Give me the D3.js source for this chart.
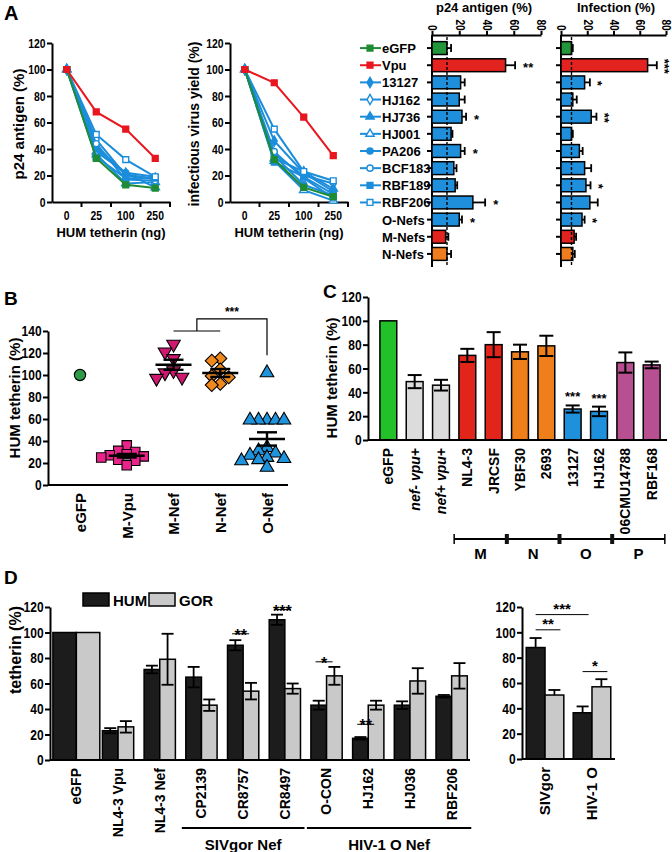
<!DOCTYPE html>
<html>
<head>
<meta charset="utf-8">
<script src="https://cdn.jsdelivr.net/npm/d3@7"></script>
<style>
  body { margin: 0; background: #fff; }
</style>
</head>
<body>
<div></div>
<script>
// ---------- panel A: dose curves ----------
const doses = ["0", "25", "100", "250"];
const curveNames = ["eGFP", "Vpu", "13127", "HJ162", "HJ736", "HJ001", "PA206", "BCF183", "RBF189", "RBF206"];
const curveSymbols = ["square", "square", "diamond", "diamond", "triangle", "triangle", "circle", "circle", "square", "square"];
const curveOpen = [false, false, false, true, false, true, false, true, false, true];
const p24Curves = [
  [100, 33, 13, 10.5],
  [100, 68, 55, 33],
  [100, 42, 21, 17],
  [100, 47, 20, 18],
  [100, 38, 22, 11],
  [100, 36, 14, 15],
  [100, 40, 22, 19],
  [100, 44, 17, 16],
  [100, 34, 18, 18],
  [100, 51, 32, 19]
];
const yieldCurves = [
  [100, 32, 11, 4],
  [100, 90, 64, 35],
  [100, 46, 22, 8],
  [100, 36, 20, 14],
  [100, 33, 23, 10],
  [100, 31, 9, 1],
  [100, 35, 13, 5],
  [100, 38, 18, 3],
  [100, 30, 19, 6],
  [100, 55, 23, 16]
];

// ---------- panel A: horizontal bars ----------
const barNames = ["eGFP", "Vpu", "13127", "HJ162", "HJ736", "HJ001", "PA206", "BCF183", "RBF189", "RBF206", "O-Nefs", "M-Nefs", "N-Nefs"];
const barGroups = ["eGFP", "Vpu", "O", "O", "O", "O", "O", "O", "O", "O", "O", "M", "N"];
const p24Bars = [11, 54, 21, 20, 22, 14, 21, 16, 17, 30, 20, 10, 11];
const p24Err = [3, 7, 3, 4, 3, 1, 3, 2, 1.5, 9, 2, 2, 3];
const p24Stars = ["", "**", "", "", "*", "", "*", "", "", "*", "*", "", ""];
const infBars = [8, 66, 18, 9, 23, 8, 14, 18, 19, 22, 16, 10, 9];
const infErr = [1, 7, 4, 3, 4, 1, 2.5, 5, 3.5, 6, 2, 1.5, 1.5];
const infStars = ["", "***", "*", "", "**", "", "", "", "*", "", "*", "", ""];

// ---------- panel B ----------
const bGroups = ["eGFP", "M-Vpu", "M-Nef", "N-Nef", "O-Nef"];
const bEGFP = [100];
const bMVpu = [36, 31, 30, 28, 27, 26, 25, 23, 22, 18];
const bMNef = [128, 121, 115, 104, 102, 98, 97];
const bNNef = [115, 113, 105, 99, 98, 92, 91];
const bONef = [102, 59, 59, 59, 59, 59, 34, 31, 29, 27, 25, 24, 23, 22, 16];

// ---------- panel C ----------
const cNames = ["eGFP", "nef- vpu+", "nef+ vpu+", "NL4-3", "JRCSF", "YBF30", "2693", "13127", "HJ162", "06CMU14788", "RBF168"];
const cGroups = ["eGFP", "ctrl", "ctrl", "M", "M", "N", "N", "O", "O", "P", "P"];
const cValues = [100, 49, 46, 71, 80, 74, 79, 26, 24, 65, 63];
const cErr = [0, 5.5, 4.5, 5.5, 10.5, 6, 8.5, 3, 4, 8.5, 2.8];
const cStars = ["", "", "", "", "", "", "", "***", "***", "", ""];
const clades = ["M", "N", "O", "P"];

// ---------- panel D ----------
const dNames = ["eGFP", "NL4-3 Vpu", "NL4-3 Nef", "CP2139", "CR8757", "CR8497", "O-CON", "HJ162", "HJ036", "RBF206"];
const dHum = [100, 23, 71, 65, 90, 110, 43, 17, 43, 50];
const dHumErr = [0, 2, 3, 8, 4, 4, 3.5, 1, 3, 1];
const dGor = [100, 26, 79, 43, 54, 56, 66, 43, 62, 66];
const dGorErr = [0, 4.5, 20, 4.5, 6.5, 4, 7, 3.5, 10, 10];
const dStars = ["", "", "", "", "**", "***", "*", "**", "", ""];
const dStarLevel = [0, 0, 0, 0, 99, 118, 77, 28, 0, 0];
const dSumNames = ["SIVgor", "HIV-1 O"];
const dSumHum = [88, 36.5];
const dSumHumErr = [7.5, 5];
const dSumGor = [50.5, 57];
const dSumGorErr = [4, 6];

// ---------- styles ----------
const font = '"Liberation Sans", Arial, sans-serif';
const colors = {
  lineGreen: "#1f8c35", lineRed: "#e8161e", lineBlue: "#1b8ddb",
  barEGFP: "#23963c", barVpu: "#e3231f", O: "#1f8fdc", M: "#e3231f", N: "#ef7d1f",
  cEGFP: "#22c12a", ctrl: "#dcdcdc", cM: "#e1251b", cN: "#ef7f1a", cO: "#1e90dc", cP: "#b84f91",
  bEGFP: "#2e9a46", bMVpu: "#e8238a", bMNef: "#cf1870", bNNef: "#f0891d", bONef: "#1f93dc",
  hum: "#1c1c1c", gor: "#c9c9c9"
};

const svg = d3.select("div").append("svg")
  .attr("width", 672).attr("height", 852)
  .attr("font-family", font).attr("font-weight", "bold");

function styleAxis(g, size) {
  g.attr("font-family", font).attr("font-size", size).attr("font-weight", "bold");
  g.selectAll("path, line").attr("stroke", "#000").attr("stroke-width", 2);
  g.selectAll("text").attr("fill", "#000");
}

// the figure's numbers are set in a condensed face; squeeze them a little
function narrowTicks(g) {
  g.selectAll(".tick text").attr("transform", "scale(0.8,1)");
}

function label(x, y, txt, size, rotate, anchor) {
  const t = svg.append("text").attr("x", x).attr("y", y)
    .attr("font-size", size).attr("text-anchor", anchor || "middle").text(txt);
  if (rotate) t.attr("transform", `rotate(${rotate},${x},${y})`);
  return t;
}

function rotateTicks(g, offset) {
  g.selectAll(".tick text")
    .attr("transform", "rotate(-90)").attr("text-anchor", "end")
    .attr("x", -offset).attr("y", 0).attr("dy", "0.35em");
}

function symbolPath(name, size) {
  const types = { square: d3.symbolSquare, diamond: d3.symbolDiamond, triangle: d3.symbolTriangle, circle: d3.symbolCircle };
  return d3.symbol().type(types[name]).size(size)();
}

function curveColor(k) {
  return k === 0 ? colors.lineGreen : k === 1 ? colors.lineRed : colors.lineBlue;
}

// panel letters
label(4, 20, "A", 20, 0, "start");
label(4, 305, "B", 19, 0, "start");
label(323, 298, "C", 19, 0, "start");
label(4, 584, "D", 19, 0, "start");

// ---------- A: line charts ----------
function lineChart(left, right, series, yTitle, titleX, titleSize) {
  const x = d3.scaleBand().domain(doses).range([left, right]);
  const y = d3.scaleLinear().domain([0, 120]).range([202, 43]);
  const cx = (i) => x(doses[i]) + x.bandwidth() / 2;

  svg.append("g").attr("transform", `translate(${left},0)`)
    .call(d3.axisLeft(y).tickValues([0, 20, 40, 60, 80, 100, 120]).tickSize(5).tickSizeOuter(0).tickPadding(3))
    .call(styleAxis, 13)
    .call(narrowTicks);
  const xg = svg.append("g").attr("transform", "translate(0,202)")
    .call(d3.axisBottom(x).tickSize(0).tickPadding(9))
    .call(styleAxis, 13)
    .call(narrowTicks);
  xg.selectAll(".edge").data(doses).join("line").attr("class", "edge")
    .attr("x1", (d) => x(d) + x.bandwidth()).attr("x2", (d) => x(d) + x.bandwidth())
    .attr("y1", 0).attr("y2", 5).attr("stroke", "#000").attr("stroke-width", 2);

  const line = d3.line().x((d, i) => cx(i)).y((d) => y(d));
  const order = [2, 3, 4, 5, 6, 7, 8, 9, 0, 1];
  order.forEach((k) => {
    const c = curveColor(k);
    svg.append("path").datum(series[k]).attr("d", line)
      .attr("fill", "none").attr("stroke", c).attr("stroke-width", 2);
    svg.append("g").selectAll("path").data(series[k]).join("path")
      .attr("transform", (d, i) => `translate(${cx(i)},${y(d)})`)
      .attr("d", symbolPath(curveSymbols[k], curveSymbols[k] === "square" ? 34 : 30))
      .attr("fill", curveOpen[k] ? "#fff" : c)
      .attr("stroke", c).attr("stroke-width", 1.4);
  });
  label(titleX, 124, yTitle, titleSize, -90);
  label((left + right) / 2, 237, "HUM tetherin (ng)", 13);
}

lineChart(52, 170, p24Curves, "p24 antigen (%)", 24, 15);
lineChart(230, 348, yieldCurves, "infectious virus yield (%)", 199, 14);

// ---------- A: horizontal bar charts ----------
const axisTopY = 35;
const yRows = d3.scaleBand().domain(barNames).range([39.5, 262.5]).paddingInner(0.25).paddingOuter(0.125);

function barColor(i) {
  const g = barGroups[i];
  return g === "eGFP" ? colors.barEGFP : g === "Vpu" ? colors.barVpu : colors[g];
}

function hbar(left, right, values, errs, stars, title, titleX, rotateStars) {
  const x = d3.scaleLinear().domain([0, 80]).range([left, right]);
  const top = svg.append("g").attr("transform", `translate(0,${axisTopY})`)
    .call(d3.axisTop(x).tickValues([0, 20, 40, 60, 80]).tickSize(4).tickSizeOuter(0))
    .call(styleAxis, 12);
  top.selectAll(".tick text")
    .attr("transform", "rotate(90) scale(0.85,1)").attr("text-anchor", "end")
    .attr("x", -5).attr("y", 0).attr("dy", "0.35em");

  const side = svg.append("g").attr("transform", `translate(${left},0)`)
    .call(d3.axisLeft(yRows).tickSize(5).tickFormat("").tickSizeOuter(0))
    .call(styleAxis, 11);
  side.select(".domain").attr("d", `M0,${axisTopY}V267`);

  const bh = yRows.bandwidth();
  svg.append("g").selectAll("rect").data(values).join("rect")
    .attr("x", x(0)).attr("y", (d, i) => yRows(barNames[i]))
    .attr("width", (d) => x(d) - x(0)).attr("height", bh)
    .attr("fill", (d, i) => barColor(i)).attr("stroke", "#000").attr("stroke-width", 1.5);

  const eg = svg.append("g").attr("stroke", "#000").attr("stroke-width", 1.8);
  values.forEach((v, i) => {
    const cy = yRows(barNames[i]) + bh / 2;
    eg.append("line").attr("x1", x(v)).attr("x2", x(v + errs[i])).attr("y1", cy).attr("y2", cy);
    eg.append("line").attr("x1", x(v + errs[i])).attr("x2", x(v + errs[i])).attr("y1", cy - 4).attr("y2", cy + 4);
    if (stars[i]) {
      const sx = x(v + errs[i]) + 8;
      const t = label(sx, cy + 7, stars[i], 13, 0, "start");
      if (rotateStars) t.attr("text-anchor", "middle").attr("x", sx + 3).attr("y", cy + 1)
        .attr("transform", `rotate(90,${sx + 3},${cy + 1})`).attr("dy", "0.6em");
    }
  });

  svg.append("line").attr("x1", x(values[0])).attr("x2", x(values[0]))
    .attr("y1", axisTopY + 2).attr("y2", 266)
    .attr("stroke", "#000").attr("stroke-width", 1.4).attr("stroke-dasharray", "3,2");

  label(titleX, 12, title, 13);
}

hbar(432, 541, p24Bars, p24Err, p24Stars, "p24 antigen (%)", 484, false);
hbar(561, 666, infBars, infErr, infStars, "Infection (%)", 616, true);

// legend rows
barNames.forEach((name, i) => {
  const cy = yRows(name) + yRows.bandwidth() / 2;
  if (i < curveNames.length) {
    const c = curveColor(i);
    svg.append("line").attr("x1", 360).attr("x2", 381).attr("y1", cy).attr("y2", cy)
      .attr("stroke", c).attr("stroke-width", 2);
    svg.append("path").attr("transform", `translate(370,${cy})`)
      .attr("d", symbolPath(curveSymbols[i], curveSymbols[i] === "square" ? 34 : 30))
      .attr("fill", curveOpen[i] ? "#fff" : c).attr("stroke", c).attr("stroke-width", 1.4);
  }
  label(382, cy + 5, name, 13, 0, "start");
});

// ---------- B: scatter ----------
const xB = d3.scalePoint().domain(bGroups).range([80, 267]);
const yB = d3.scaleLinear().domain([0, 140]).range([485, 331]);

svg.append("g").attr("transform", "translate(48,0)")
  .call(d3.axisLeft(yB).tickValues(d3.range(0, 141, 20)).tickSize(5).tickSizeOuter(0).tickPadding(3))
  .call(styleAxis, 15)
  .call(narrowTicks);
const xgB = svg.append("g").attr("transform", "translate(0,485)")
  .call(d3.axisBottom(xB).tickSize(0))
  .call(styleAxis, 15);
xgB.select(".domain").attr("d", "M48,0H288");
rotateTicks(xgB, 8);
label(20, 398, "HUM tetherin (%)", 15, -90);

function swarm(values, step) {
  const placed = [];
  return values.map((v) => {
    const py = yB(v);
    let k = 0;
    let off = 0;
    for (;;) {
      off = k === 0 ? 0 : (k % 2 ? -1 : 1) * Math.ceil(k / 2) * step;
      if (placed.every((p) => Math.hypot(p.dx - off, p.y - py) >= step)) break;
      k++;
    }
    placed.push({ dx: off, y: py });
    return { v, dx: off, y: py };
  });
}

const bSets = [
  { data: bEGFP, shape: "circle", size: 100, rot: 0, fill: colors.bEGFP, mean: false },
  { data: bMVpu, shape: "square", size: 90, rot: 0, fill: colors.bMVpu, mean: true },
  { data: bMNef, shape: "triangle", size: 80, rot: 180, fill: colors.bMNef, mean: true },
  { data: bNNef, shape: "square", size: 85, rot: 45, fill: colors.bNNef, mean: true },
  { data: bONef, shape: "triangle", size: 80, rot: 0, fill: colors.bONef, mean: true }
];

bSets.forEach((set, gi) => {
  const cx = xB(bGroups[gi]);
  svg.append("g").selectAll("path").data(swarm(set.data, 8.5)).join("path")
    .attr("transform", (d) => `translate(${cx + d.dx},${d.y}) rotate(${set.rot})`)
    .attr("d", symbolPath(set.shape, set.size))
    .attr("fill", set.fill).attr("stroke", "#000").attr("stroke-width", 1.1);
  if (set.mean) {
    const m = d3.mean(set.data);
    const sem = d3.deviation(set.data) / Math.sqrt(set.data.length);
    const g = svg.append("g").attr("stroke", "#000").attr("stroke-width", 2.4);
    g.append("line").attr("x1", cx - 18).attr("x2", cx + 18).attr("y1", yB(m)).attr("y2", yB(m));
    g.append("line").attr("x1", cx).attr("x2", cx).attr("y1", yB(m - sem)).attr("y2", yB(m + sem));
    [m - sem, m + sem].forEach((v) => {
      g.append("line").attr("x1", cx - 10).attr("x2", cx + 10).attr("y1", yB(v)).attr("y2", yB(v));
    });
  }
});

// significance bracket M/N-Nef vs O-Nef
const bMid = (xB("M-Nef") + xB("N-Nef")) / 2;
svg.append("path")
  .attr("d", `M${xB("M-Nef")},${yB(140)}H${xB("N-Nef")}M${bMid},${yB(140)}V${yB(151)}H${xB("O-Nef")}V${yB(118)}`)
  .attr("fill", "none").attr("stroke", "#000").attr("stroke-width", 1.2);
label((bMid + xB("O-Nef")) / 2, yB(151) - 3, "***", 12);

// ---------- C: bars ----------
const xC = d3.scaleBand().domain(cNames).range([372, 668]).paddingInner(0.36).paddingOuter(0.3);
const yC = d3.scaleLinear().domain([0, 120]).range([440, 297]);
const cColor = { eGFP: colors.cEGFP, ctrl: colors.ctrl, M: colors.cM, N: colors.cN, O: colors.cO, P: colors.cP };

svg.append("g").attr("transform", "translate(368,0)")
  .call(d3.axisLeft(yC).tickValues(d3.range(0, 121, 20)).tickSize(5).tickSizeOuter(0).tickPadding(3))
  .call(styleAxis, 15)
  .call(narrowTicks);

svg.append("g").selectAll("rect").data(cValues).join("rect")
  .attr("x", (d, i) => xC(cNames[i])).attr("y", (d) => yC(d))
  .attr("width", xC.bandwidth()).attr("height", (d) => yC(0) - yC(d))
  .attr("fill", (d, i) => cColor[cGroups[i]]).attr("stroke", "#000").attr("stroke-width", 1.5);

const ceg = svg.append("g").attr("stroke", "#000").attr("stroke-width", 2);
cValues.forEach((v, i) => {
  if (!cErr[i]) return;
  const cx = xC(cNames[i]) + xC.bandwidth() / 2;
  ceg.append("line").attr("x1", cx).attr("x2", cx).attr("y1", yC(v - cErr[i])).attr("y2", yC(v + cErr[i]));
  [v - cErr[i], v + cErr[i]].forEach((e) => {
    ceg.append("line").attr("x1", cx - 7).attr("x2", cx + 7).attr("y1", yC(e)).attr("y2", yC(e));
  });
  if (cStars[i]) label(cx, yC(v + cErr[i]) - 4, cStars[i], 13);
});

const xgC = svg.append("g").attr("transform", "translate(0,440)")
  .call(d3.axisBottom(xC).tickSize(0))
  .call(styleAxis, 14);
xgC.select(".domain").attr("d", "M368,0H667");
rotateTicks(xgC, 8);
xgC.selectAll(".tick text").attr("font-style", (d) => (d.startsWith("nef") ? "italic" : null));
label(337, 378, "HUM tetherin (%)", 15, -90);

// clade bracket
const cladeSpan = clades.map((c) => {
  const names = cNames.filter((n, i) => cGroups[i] === c);
  const step = xC.step();
  const x0 = xC(names[0]) - step * xC.paddingInner() / 2;
  const x1 = xC(names[names.length - 1]) + xC.bandwidth() + step * xC.paddingInner() / 2;
  return { c, x0, x1 };
});
const bracketY = 539;
svg.append("line").attr("x1", cladeSpan[0].x0).attr("x2", cladeSpan[3].x1)
  .attr("y1", bracketY).attr("y2", bracketY).attr("stroke", "#000").attr("stroke-width", 2);
[cladeSpan[0].x0, cladeSpan[3].x1].forEach((x) => {
  svg.append("line").attr("x1", x).attr("x2", x).attr("y1", bracketY - 5).attr("y2", bracketY + 5)
    .attr("stroke", "#000").attr("stroke-width", 1.5);
});
cladeSpan.slice(1).forEach((s) => {
  svg.append("rect").attr("x", s.x0 - 2).attr("y", bracketY - 5).attr("width", 4).attr("height", 10).attr("fill", "#111");
});
cladeSpan.forEach((s) => label((s.x0 + s.x1) / 2, bracketY + 20, s.c, 15));

// ---------- D: grouped bars ----------
const xD = d3.scaleBand().domain(dNames).range([53, 475]).paddingInner(0.25).paddingOuter(0.185);
const yD = d3.scaleLinear().domain([0, 120]).range([760, 607]);

svg.append("g").attr("transform", "translate(50,0)")
  .call(d3.axisLeft(yD).tickValues(d3.range(0, 121, 20)).tickSize(5).tickSizeOuter(0).tickPadding(3))
  .call(styleAxis, 15)
  .call(narrowTicks);
label(21, 650, "tetherin (%)", 16, -90);

function pairBars(names, xs, ys, hum, humErr, gor, gorErr, widen, bothSides) {
  const g = svg.append("g");
  names.forEach((n, i) => {
    const w = (xs.bandwidth() / 2) * widen(n);
    const c = xs(n) + xs.bandwidth() / 2;
    [[hum[i], humErr[i], c - w, colors.hum], [gor[i], gorErr[i], c, colors.gor]].forEach(([v, e, x0, fill]) => {
      g.append("rect").attr("x", x0).attr("y", ys(v)).attr("width", w).attr("height", ys(0) - ys(v))
        .attr("fill", fill).attr("stroke", "#000").attr("stroke-width", 1.5);
      if (!e) return;
      const ex = x0 + w / 2;
      const lo = bothSides ? v - e : v;
      g.append("line").attr("x1", ex).attr("x2", ex).attr("y1", ys(lo)).attr("y2", ys(v + e))
        .attr("stroke", "#000").attr("stroke-width", 1.8);
      (bothSides ? [v - e, v + e] : [v + e]).forEach((ev) => {
        g.append("line").attr("x1", ex - 6).attr("x2", ex + 6).attr("y1", ys(ev)).attr("y2", ys(ev))
          .attr("stroke", "#000").attr("stroke-width", 1.8);
      });
    });
  });
}

pairBars(dNames, xD, yD, dHum, dHumErr, dGor, dGorErr, (n) => (n === "eGFP" ? 1.5 : 1), true);

const xgD = svg.append("g").attr("transform", "translate(0,760)")
  .call(d3.axisBottom(xD).tickSize(0))
  .call(styleAxis, 14);
xgD.select(".domain").attr("d", "M50,0H470");
rotateTicks(xgD, 8);

dStars.forEach((s, i) => {
  if (!s) return;
  const c = xD(dNames[i]) + xD.bandwidth() / 2;
  svg.append("line").attr("x1", c - 11).attr("x2", c + 6)
    .attr("y1", yD(dStarLevel[i])).attr("y2", yD(dStarLevel[i]))
    .attr("stroke", "#000").attr("stroke-width", 1);
  label(c - 2.5, yD(dStarLevel[i]) + 7, s, 16);
});

// group brackets under D
[["SIVgor Nef", ["CP2139", "CR8497"]], ["HIV-1 O Nef", ["O-CON", "RBF206"]]].forEach(([txt, [a, b]]) => {
  const x0 = xD(a) - 4;
  const x1 = xD(b) + xD.bandwidth() + 4;
  svg.append("line").attr("x1", x0).attr("x2", x1).attr("y1", 828).attr("y2", 828)
    .attr("stroke", "#000").attr("stroke-width", 2);
  label((x0 + x1) / 2, 850, txt, 15);
});

// legend
[["HUM", colors.hum, 83], ["GOR", colors.gor, 149]].forEach(([txt, fill, x]) => {
  svg.append("rect").attr("x", x).attr("y", 593).attr("width", 26).attr("height", 13)
    .attr("fill", fill).attr("stroke", "#000").attr("stroke-width", 1.5);
  label(x + 30, 606, txt, 15, 0, "start");
});

// ---------- D: summary ----------
const xS = d3.scaleBand().domain(dSumNames).range([522, 615]).paddingInner(0.2).paddingOuter(0.09);
const yS = d3.scaleLinear().domain([0, 120]).range([759, 607]);

svg.append("g").attr("transform", "translate(522,0)")
  .call(d3.axisLeft(yS).tickValues(d3.range(0, 121, 20)).tickSize(5).tickSizeOuter(0).tickPadding(3))
  .call(styleAxis, 15)
  .call(narrowTicks);

pairBars(dSumNames, xS, yS, dSumHum, dSumHumErr, dSumGor, dSumGorErr, () => 1, false);

const xgS = svg.append("g").attr("transform", "translate(0,759)")
  .call(d3.axisBottom(xS).tickSize(0))
  .call(styleAxis, 15);
xgS.select(".domain").attr("d", "M522,0H615");
rotateTicks(xgS, 8);

const sHalf = xS.bandwidth() / 4;
const sumBrackets = [
  { a: xS("SIVgor") + sHalf, b: xS("HIV-1 O") + sHalf + 6, level: 114, text: "***" },
  { a: xS("SIVgor") + sHalf, b: xS("SIVgor") + 3 * sHalf + 6, level: 102, text: "**" },
  { a: xS("HIV-1 O") + sHalf, b: xS("HIV-1 O") + 3 * sHalf + 6, level: 69, text: "*" }
];
sumBrackets.forEach((s) => {
  svg.append("line").attr("x1", s.a).attr("x2", s.b).attr("y1", yS(s.level)).attr("y2", yS(s.level))
    .attr("stroke", "#000").attr("stroke-width", 1);
  label((s.a + s.b) / 2, yS(s.level) - 1, s.text, 15);
});
</script>
</body>
</html>
